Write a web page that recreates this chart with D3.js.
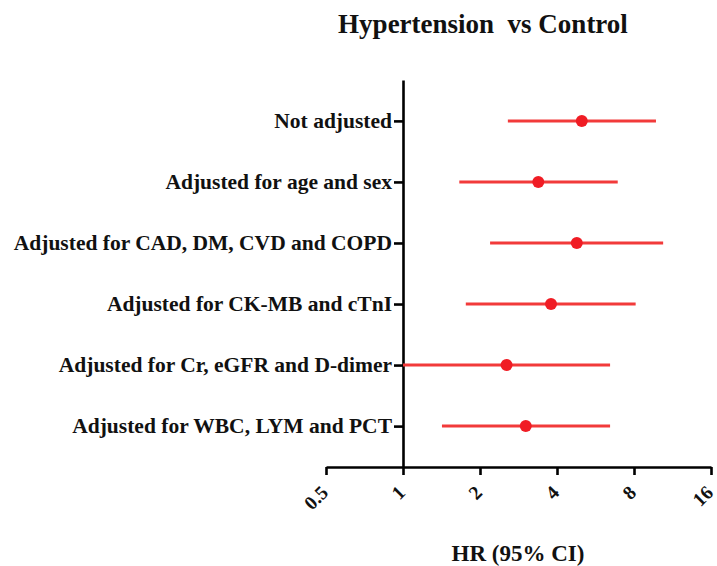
<!DOCTYPE html>
<html>
<head>
<meta charset="utf-8">
<script src="https://cdn.jsdelivr.net/npm/d3@7"></script>
<style>
  body { margin: 0; background: #fff; }
  text { font-family: "Liberation Serif", "Times New Roman", serif; font-weight: bold; fill: #111; }
</style>
</head>
<body>
<svg width="717" height="566"></svg>
<script>
  // DATA
  var models = ["Not adjusted", "Adjusted for age and sex", "Adjusted for CAD, DM, CVD and COPD",
    "Adjusted for CK-MB and cTnI", "Adjusted for Cr, eGFR and D-dimer", "Adjusted for WBC, LYM and PCT"];
  var hr = [5.0, 3.38, 4.78, 3.79, 2.54, 3.02];
  var lower = [2.57, 1.66, 2.19, 1.76, 1.0, 1.42];
  var upper = [9.75, 6.91, 10.4, 8.12, 6.45, 6.45];
  var ticks = [0.5, 1, 2, 4, 8, 16];

  var svg = d3.select("svg"),
    margin = { top: 80, right: 6, bottom: 99, left: 326 },
    width = 717 - margin.left - margin.right,
    height = 566 - margin.top - margin.bottom;

  var x = d3.scaleLog().base(2).domain([0.5, 16]).range([0, 385]);
  var y = d3.scalePoint().domain(models).range([0, height]).padding(0.67);

  var g = svg.append("g")
    .attr("transform", "translate(" + margin.left + "," + margin.top + ")");

  // title (double space kept)
  svg.append("text")
    .attr("x", 483)
    .attr("y", 33)
    .attr("text-anchor", "middle")
    .attr("xml:space", "preserve")
    .style("white-space", "pre")
    .style("font-size", "27px")
    .text("Hypertension  vs Control");

  // x axis
  var xAxis = g.append("g")
    .attr("class", "axis axis--x")
    .attr("transform", "translate(0," + height + ")")
    .call(d3.axisBottom(x).tickValues(ticks).tickFormat(d3.format("")).tickSize(8).tickSizeOuter(0));

  xAxis.selectAll("text")
    .style("font-size", "19.5px")
    .attr("text-anchor", "end")
    .attr("x", 0)
    .attr("y", 0)
    .attr("dy", "0.35em")
    .attr("transform", "translate(-2,22) rotate(-45)");

  // y axis at HR = 1
  var yAxis = g.append("g")
    .attr("class", "axis axis--y")
    .attr("transform", "translate(" + x(1) + ",0)")
    .call(d3.axisLeft(y).tickSize(9).tickSizeOuter(0).tickPadding(2));

  yAxis.selectAll("text").style("font-size", "21.5px");

  g.selectAll(".domain").attr("stroke", "#000").attr("stroke-width", 2.6);
  g.selectAll(".tick line").attr("stroke", "#000").attr("stroke-width", 2.6);

  // x label
  svg.append("text")
    .attr("x", margin.left + 192)
    .attr("y", 561)
    .attr("text-anchor", "middle")
    .style("font-size", "23px")
    .text("HR (95% CI)");

  var rows = models.map(function (d, i) { return { model: d, hr: hr[i], lo: lower[i], hi: upper[i] }; });

  g.selectAll(".ci")
    .data(rows)
    .enter().append("line")
    .attr("class", "ci")
    .attr("x1", function (d) { return x(d.lo); })
    .attr("x2", function (d) { return x(d.hi); })
    .attr("y1", function (d) { return y(d.model); })
    .attr("y2", function (d) { return y(d.model); })
    .attr("stroke", "#f23a3a")
    .attr("stroke-width", 3);

  g.selectAll(".dot")
    .data(rows)
    .enter().append("circle")
    .attr("class", "dot")
    .attr("cx", function (d) { return x(d.hr); })
    .attr("cy", function (d) { return y(d.model); })
    .attr("r", 6)
    .attr("fill", "#f01c24");
</script>
</body>
</html>
